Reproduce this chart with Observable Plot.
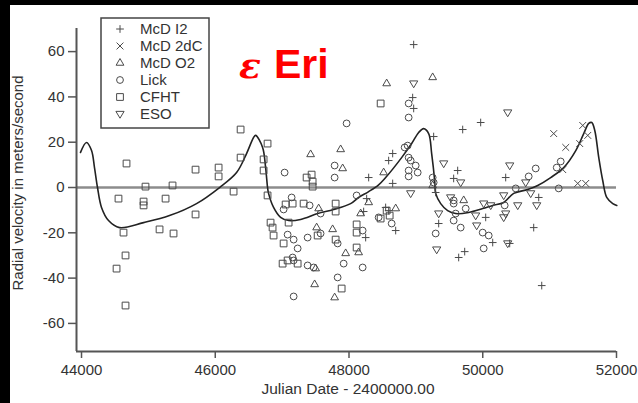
<!DOCTYPE html>
<html><head><meta charset="utf-8">
<script src="https://cdn.jsdelivr.net/npm/d3@7"></script>
<script src="https://cdn.jsdelivr.net/npm/@observablehq/plot@0.6"></script>
<style>
html,body{margin:0;padding:0;background:#000;width:638px;height:403px;overflow:hidden}
#chart{position:absolute;left:10px;top:5px;width:628px;height:398px;background:#fff}
</style></head><body><div id="chart"></div>
<script>
// ---- data (Julian Date - 2400000, radial velocity m/s) ----
const seriesNames = ["McD I2","McD 2dC","McD O2","Lick","CFHT","ESO"];
const xTicks = [44000,46000,48000,50000,52000];
const yTicks = [-60,-40,-20,0,20,40,60];

const mcdI2 = [[48967,63.1],[48952,39.7],[48967,34.9],[49700,25.6],[49969,28.7],[49266,22.5],[49625,7.5],[49565,4.0],[48653,15.0],[48593,11.9],[48653,1.8],[48294,4.4],[48249,-22.1],[48219,-10.6],[48698,-19.0],[48548,-8.8],[48593,-10.2],[49296,-2.2],[49341,-15.9],[49640,-30.9],[49730,-28.3],[50044,-13.2],[50149,-24.3],[50403,-24.7],[50343,4.4],[50837,-4.4],[50762,-17.7],[50882,-43.3],[48264,-4.9]];
const mcd2dC = [[51061,23.8],[51241,17.7],[51495,27.4],[51570,23.0],[51450,19.4],[51196,7.9],[51420,1.8],[51540,1.8]];
const mcdO2 = [[48563,45.9],[49251,48.6],[47426,14.6],[47875,16.8],[47905,8.4],[48518,6.6],[47546,-9.3],[47516,-17.7],[47755,-18.5],[48144,-28.7],[47950,-29.1],[47501,-35.8],[47486,-42.8],[47785,-48.6],[48294,-6.6],[48174,-11.5],[48698,-9.3],[49251,0.9],[49715,-5.7]];
const lick = [[47037,6.6],[47964,28.3],[47785,9.7],[47785,4.4],[48892,37.1],[48892,30.9],[48877,18.5],[48832,17.7],[48892,13.2],[48922,11.9],[48997,9.7],[48892,7.5],[49027,6.6],[48892,4.9],[49251,4.4],[49266,2.2],[50792,8.4],[50687,4.9],[51106,8.8],[51166,11.5],[51136,-0.4],[50493,-0.4],[50328,-7.9],[47142,-4.4],[47022,-9.7],[47411,-7.9],[47575,-11.5],[47575,-20.3],[47381,-22.1],[47082,-20.8],[47172,-23.0],[47830,-24.7],[48204,-19.0],[47920,-33.6],[48204,-35.3],[47232,-26.9],[47157,-30.9],[47172,-32.2],[47381,-34.4],[47471,-35.3],[47830,-39.7],[47172,-48.1],[48114,-3.5],[48443,-13.2],[48638,-15.9],[49296,-20.3],[49565,-5.7],[49565,-7.1],[49595,-11.5],[49565,-14.6],[49670,-17.7],[49745,-9.3],[49999,-19.9],[50089,-21.2],[50014,-26.9]];
const cfht = [[46379,25.6],[46379,13.2],[44673,10.6],[45705,7.9],[46050,8.8],[46050,4.9],[44957,0.4],[45361,0.9],[46274,-1.8],[44553,-4.9],[44928,-6.2],[44928,-7.9],[45257,-4.9],[45705,-11.9],[44628,-19.9],[45167,-18.5],[45376,-20.3],[44658,-30.0],[44524,-35.8],[44658,-52.1],[46782,19.4],[46723,12.4],[46723,7.5],[47366,4.4],[47441,5.7],[47456,2.6],[47456,0.4],[48473,37.1],[46782,-3.5],[47052,-7.5],[47157,-7.1],[47321,-7.1],[47800,-7.1],[47800,-10.6],[46827,-15.5],[46857,-17.7],[46872,-21.2],[47097,-15.5],[47531,-21.2],[47022,-24.7],[47800,-23.0],[48114,-16.3],[48114,-19.9],[48114,-26.5],[47007,-33.6],[47082,-32.2],[47232,-33.6],[47890,-44.6],[48473,-13.7],[48563,-10.2],[48608,-12.4]];
const eso = [[48967,45.9],[50373,33.1],[49416,10.6],[50403,9.7],[50642,2.2],[48922,-2.6],[49341,-11.5],[49311,-27.4],[49520,-4.4],[49894,-12.4],[49909,-16.8],[50014,-7.1],[50119,-7.9],[50313,-3.5],[50313,-13.2],[50343,-11.5],[50523,-7.9],[50807,-7.9],[50717,-2.6],[50373,-24.7],[49670,2.2]];

// orbit model curve
const orbitCurve = [[43985,15.5],[44075,19.9],[44150,16.3],[44194,8.8],[44239,0],[44299,-8.8],[44404,-14.6],[44568,-17.7],[44928,-15.5],[45316,-12.4],[45720,-7.1],[46064,0],[46319,6.6],[46468,15.0],[46573,22.1],[46603,23.0],[46708,17.7],[46753,8.8],[46782,0],[46797,-2.6],[46872,-8.8],[46977,-13.2],[47097,-14.6],[47276,-14.1],[47531,-11.5],[47770,-9.7],[48024,-7.1],[48144,-4.4],[48294,-1.8],[48443,1.2],[48548,4.4],[48787,13.2],[48937,19.4],[49042,24.3],[49116,26.0],[49191,23.8],[49236,15.0],[49281,3.1],[49296,-2.6],[49371,-7.1],[49475,-10.2],[49595,-11.5],[49789,-11.0],[49999,-9.3],[50149,-7.9],[50313,-6.6],[50463,-2.6],[50672,-0.9],[50822,0.9],[51016,4.4],[51211,8.8],[51391,16.3],[51510,23.8],[51585,28.3],[51630,28.7],[51675,25.2],[51735,13.2],[51794,3.1],[51854,-4.4],[51944,-7.1],[52004,-7.9]];

const xDomain = [43925, 52000];
const yDomain = [-72.4, 70.2];

// ---- symbols ----
const invTri = {draw(ctx, size){ const r = Math.sqrt(size/Math.PI); const w = r*1.05, h = r*0.9;
  ctx.moveTo(-w,-h*0.75); ctx.lineTo(w,-h*0.75); ctx.lineTo(0,h*1.2); ctx.closePath(); }};
const symStroke = "#4a4a4a";
const specs = [
  {data: mcdI2, symbol: "plus", r: 2.6},
  {data: mcd2dC, symbol: "times", r: 3.2},
  {data: mcdO2, symbol: "triangle2", r: 3.7},
  {data: lick, symbol: "circle", r: 3.4},
  {data: cfht, symbol: "square2", r: 4.3},
  {data: eso, symbol: invTri, r: 3.9}
];

const fmt = d => String(d);
const font = "'Liberation Sans', Arial, Helvetica, sans-serif";
const chart = Plot.plot({
  width: 628, height: 398,
  marginLeft: 66, marginRight: 22, marginTop: 23, marginBottom: 52,
  style: {fontFamily: font, fontSize: "15px", color: "#333", background: "#fff", overflow: "visible"},
  x: {domain: xDomain},
  y: {domain: yDomain},
  marks: [
    Plot.ruleY([0], {stroke: "#8c8c8c", strokeWidth: 2.6}),
    Plot.axisX({ticks: xTicks, tickFormat: fmt, tickSize: 7, tickPadding: 6, label: null, stroke: "#555", strokeWidth: 1.5, fill: "#333", fontSize: 15}),
    Plot.axisY({ticks: yTicks, tickFormat: fmt, tickSize: 8, tickPadding: 4, label: null, stroke: "#555", strokeWidth: 1.5, fill: "#333", fontSize: 15}),
    Plot.ruleX([xDomain[0]], {stroke: "#555", strokeWidth: 2}),
    Plot.ruleY([yDomain[0]], {stroke: "#555", strokeWidth: 2}),
    Plot.line(orbitCurve, {x: d => d[0], y: d => d[1], curve: "catmull-rom", stroke: "#222", strokeWidth: 1.6}),
    ...specs.map(s => Plot.dot(s.data, {x: d => d[0], y: d => d[1], symbol: s.symbol, r: s.r, stroke: symStroke, strokeWidth: 1, fill: "none"}))
  ]
});
document.getElementById("chart").appendChild(chart);

const svg = d3.select(chart);
// axis titles
svg.append("text").attr("transform", "translate(13,178) rotate(-90)")
  .attr("text-anchor", "middle").attr("font-family", font).attr("font-size", 15).attr("fill", "#333")
  .text("Radial velocity in meters/second");
svg.append("text").attr("x", 338).attr("y", 389)
  .attr("text-anchor", "middle").attr("font-family", font).attr("font-size", 15.5).attr("fill", "#333")
  .text("Julian Date - 2400000.00");

// title
svg.append("text").attr("x", 229).attr("y", 73).attr("text-anchor", "start")
  .attr("font-family", "'DejaVu Serif', serif").attr("font-style", "italic").attr("font-weight", "bold")
  .attr("font-size", 36).attr("fill", "#ff0000").text("ε");
svg.append("text").attr("x", 264).attr("y", 73).attr("text-anchor", "start")
  .attr("font-family", font).attr("font-weight", "bold")
  .attr("font-size", 41).attr("fill", "#ff0000").text("Eri");

// legend
const lg = svg.append("g");
lg.append("rect").attr("x", 91).attr("y", 13).attr("width", 108).attr("height", 110)
  .attr("fill", "#fff").attr("stroke", "#444").attr("stroke-width", 1.5);
const symMap = {plus: d3.symbolPlus, times: d3.symbolTimes, triangle2: d3.symbolTriangle2, circle: d3.symbolCircle, square2: d3.symbolSquare2};
specs.forEach((s, i) => {
  const y = 24 + i * 17;
  const type = typeof s.symbol === "string" ? symMap[s.symbol] : s.symbol;
  lg.append("path").attr("transform", `translate(110,${y})`)
    .attr("d", d3.symbol(type, Math.PI * s.r * s.r)())
    .attr("fill", "none").attr("stroke", symStroke).attr("stroke-width", 1);
  lg.append("text").attr("x", 130).attr("y", y).attr("dy", "0.35em").attr("text-anchor", "start")
    .attr("font-family", font).attr("font-size", 15).attr("fill", "#333").text(seriesNames[i]);
});
</script></body></html>
